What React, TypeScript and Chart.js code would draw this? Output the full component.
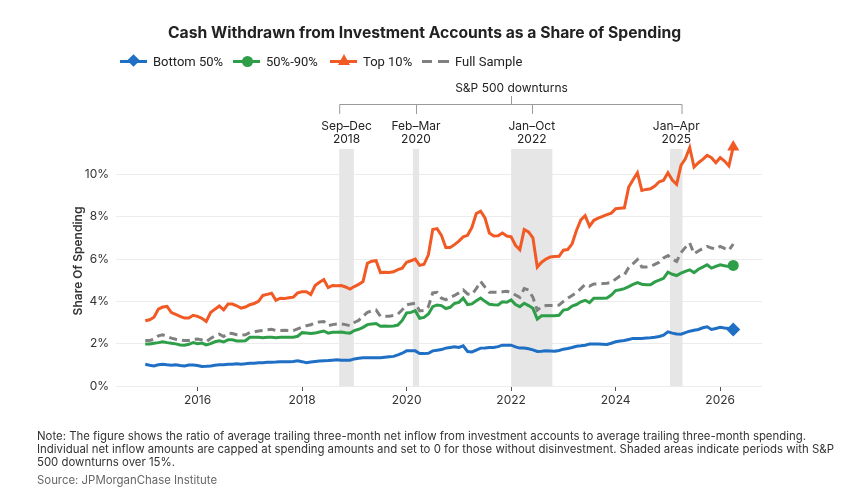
import React, { useEffect, useRef } from "react";
import { Chart, registerables } from "chart.js";

Chart.register(...registerables);

// ---- Data (monthly, Jan 2015 – Apr 2026), values in % of spending ----
const startYear = 2015;

const bottom50 = [
  1.03, 0.98, 0.95, 1.0, 1.03, 1.0, 0.98, 1.0, 0.97, 0.95,
  0.99, 0.99, 0.97, 0.92, 0.93, 0.95, 0.98, 1.0, 1.0, 1.03,
  1.03, 1.05, 1.03, 1.05, 1.08, 1.08, 1.1, 1.1, 1.12, 1.12,
  1.13, 1.15, 1.15, 1.15, 1.16, 1.19, 1.15, 1.1, 1.13, 1.16,
  1.18, 1.19, 1.2, 1.22, 1.24, 1.22, 1.22, 1.22, 1.28, 1.31,
  1.33, 1.34, 1.34, 1.34, 1.34, 1.36, 1.38, 1.4, 1.47, 1.55,
  1.66, 1.66, 1.66, 1.53, 1.53, 1.55, 1.66, 1.69, 1.72, 1.79,
  1.82, 1.85, 1.82, 1.9, 1.63, 1.61, 1.7, 1.79, 1.8, 1.82,
  1.82, 1.86, 1.93, 1.93, 1.93, 1.85, 1.79, 1.79, 1.76, 1.71,
  1.63, 1.64, 1.66, 1.65, 1.64, 1.68, 1.74, 1.77, 1.82, 1.88,
  1.9, 1.93, 1.98, 1.98, 1.98, 1.97, 1.96, 2.02, 2.09, 2.13,
  2.15, 2.2, 2.25, 2.25, 2.25, 2.27, 2.28, 2.3, 2.34, 2.4,
  2.56, 2.5, 2.46, 2.45, 2.52, 2.59, 2.63, 2.67, 2.75, 2.8,
  2.67, 2.72, 2.77, 2.74, 2.72, 2.67,
];

const mid50to90 = [
  1.99, 1.99, 2.02, 2.05, 2.09, 2.05, 2.02, 1.99, 1.94, 1.93,
  1.97, 2.05, 2.0, 2.03, 1.94, 2.0, 2.09, 2.14, 2.08, 2.18,
  2.18, 2.13, 2.13, 2.14, 2.3, 2.3, 2.3, 2.28, 2.3, 2.3,
  2.28, 2.3, 2.3, 2.3, 2.3, 2.35, 2.52, 2.5, 2.48, 2.5,
  2.55, 2.6, 2.5, 2.54, 2.54, 2.55, 2.52, 2.5, 2.62, 2.68,
  2.77, 2.9, 2.93, 2.95, 2.82, 2.83, 2.82, 2.84, 2.88, 3.1,
  3.45, 3.48, 3.56, 3.2, 3.24, 3.4, 3.75, 3.83, 3.8, 3.66,
  3.72, 3.9, 3.95, 4.15, 3.85, 3.88, 4.03, 4.16, 4.0, 3.86,
  3.84, 3.83, 3.98, 3.96, 4.07, 3.85, 3.75, 3.91, 3.8, 3.67,
  3.16, 3.32, 3.32, 3.32, 3.32, 3.34, 3.59, 3.62, 3.78, 3.85,
  3.98, 4.05, 3.94, 4.15, 4.15, 4.15, 4.16, 4.3, 4.51, 4.55,
  4.6, 4.7, 4.8, 4.89, 4.81, 4.79, 4.78, 4.92, 5.0, 5.09,
  5.38, 5.28, 5.22, 5.33, 5.42, 5.49, 5.36, 5.52, 5.62, 5.73,
  5.57, 5.65, 5.73, 5.68, 5.65, 5.7,
];

const top10 = [
  3.08, 3.13, 3.25, 3.63, 3.73, 3.76, 3.47, 3.38, 3.29, 3.21,
  3.21, 3.34, 3.29, 3.2, 3.05, 3.47, 3.63, 3.78, 3.6, 3.87,
  3.87, 3.79, 3.68, 3.73, 3.84, 3.9, 4.0, 4.28, 4.33, 4.38,
  4.05, 4.15, 4.14, 4.17, 4.2, 4.4, 4.45, 4.45, 4.32, 4.75,
  4.9, 5.03, 4.65, 4.75, 4.74, 4.75, 4.68, 4.58, 4.7, 4.8,
  4.94, 5.8, 5.9, 5.92, 5.36, 5.37, 5.36, 5.4, 5.5, 5.57,
  5.85, 5.92, 6.0, 5.7, 5.75, 6.2, 7.4, 7.44, 7.12, 6.55,
  6.55, 6.68, 6.85, 7.05, 7.12, 7.5, 8.15, 8.26, 7.94, 7.23,
  7.09, 7.1, 7.23, 7.09, 7.05, 6.65, 6.44, 7.39, 7.28, 7.0,
  5.62, 5.85, 6.0, 6.1, 6.12, 6.13, 6.42, 6.45, 6.72, 7.35,
  7.85, 8.05, 7.55, 7.83, 7.93, 8.02, 8.1, 8.17, 8.38, 8.4,
  8.42, 9.4, 9.75, 10.08, 9.24, 9.29, 9.32, 9.45, 9.65, 9.72,
  10.08, 9.73, 9.53, 10.43, 10.74, 11.27, 10.35, 10.55, 10.71, 10.9,
  10.79, 10.55, 10.79, 10.63, 10.4, 11.3,
];

const fullSample = [
  2.15, 2.15, 2.21, 2.37, 2.42, 2.34, 2.26, 2.21, 2.18, 2.15,
  2.15, 2.21, 2.22, 2.18, 2.1, 2.24, 2.37, 2.45, 2.34, 2.5,
  2.48, 2.42, 2.4, 2.42, 2.53, 2.56, 2.6, 2.62, 2.66, 2.68,
  2.62, 2.62, 2.63, 2.62, 2.62, 2.7, 2.78, 2.85, 2.89, 3.0,
  3.03, 3.05, 2.85, 2.9, 2.93, 2.93, 2.9, 2.85, 3.0, 3.1,
  3.3, 3.48, 3.55, 3.59, 3.29, 3.3, 3.3, 3.33, 3.4, 3.6,
  3.83, 3.88, 3.91, 3.55, 3.57, 3.75, 4.4, 4.43, 4.15, 4.08,
  4.18, 4.28, 4.4, 4.54, 4.35, 4.33, 4.6, 4.94, 4.67, 4.43,
  4.43, 4.43, 4.45, 4.48, 4.42, 4.3, 4.19, 4.6, 4.54, 4.19,
  3.58, 3.75, 3.8, 3.8, 3.8, 3.82, 4.0, 4.15, 4.28, 4.42,
  4.6, 4.8, 4.72, 4.82, 4.83, 4.84, 4.86, 4.89, 5.05, 5.2,
  5.25, 5.6, 5.78, 5.97, 5.62, 5.62, 5.65, 5.75, 5.85, 6.05,
  6.16, 6.0, 5.89, 6.3, 6.55, 6.76, 6.25, 6.38, 6.5, 6.6,
  6.52, 6.47, 6.6, 6.5, 6.41, 6.71,
];

// S&P 500 downturn periods (decimal years)
const downturnStart = [2018.71, 2020.12, 2022.0, 2025.04];
const downturnEnd = [2018.99, 2020.24, 2022.79, 2025.28];
const downturnLabels = [
  ["Sep–Dec", "2018"],
  ["Feb–Mar", "2020"],
  ["Jan–Oct", "2022"],
  ["Jan–Apr", "2025"],
];

const yTicks = [0, 2, 4, 6, 8, 10];
const xTickYears = [2016, 2018, 2020, 2022, 2024, 2026];

const seriesNames = ["Bottom 50%", "50%-90%", "Top 10%", "Full Sample"];
const colors = ["#1f6fc5", "#2f9e48", "#f15a24", "#808080"];

const FONT = "Inter, 'Noto Sans', sans-serif";
const LEGEND_FONT = "Roboto, Inter, sans-serif";

const toPoints = (vals: number[]) =>
  vals.map((v, i) => ({ x: startYear + i / 12, y: v }));

const App = () => {
  const canvasRef = useRef<HTMLCanvasElement | null>(null);

  useEffect(() => {
    const canvas = canvasRef.current;
    if (!canvas) return;

    const overlayPlugin = {
      id: "overlay",
      beforeDatasetsDraw(chart: any) {
        const { ctx, chartArea, scales } = chart;
        const xs = scales.x;
        ctx.save();
        ctx.fillStyle = "#e6e6e6";
        downturnStart.forEach((s, i) => {
          const x0 = xs.getPixelForValue(s);
          const x1 = xs.getPixelForValue(downturnEnd[i]);
          ctx.fillRect(x0, chartArea.top, x1 - x0, chartArea.bottom - chartArea.top);
        });
        ctx.restore();
      },
      afterDraw(chart: any) {
        const { ctx, scales } = chart;
        const xs = scales.x;
        ctx.save();
        // Bracket annotation
        const n = downturnStart.length;
        const left = xs.getPixelForValue(downturnStart[0]);
        const right = xs.getPixelForValue(downturnEnd[n - 1]);
        const barY = 104;
        const dropY = 114;
        ctx.strokeStyle = "#9a9a9a";
        ctx.lineWidth = 1;
        ctx.beginPath();
        ctx.moveTo(left + 0.5, dropY);
        ctx.lineTo(left + 0.5, barY + 0.5);
        ctx.lineTo(right - 0.5, barY + 0.5);
        ctx.lineTo(right - 0.5, dropY);
        for (let i = 1; i < n - 1; i++) {
          const cx = Math.round(
            (xs.getPixelForValue(downturnStart[i]) + xs.getPixelForValue(downturnEnd[i])) / 2
          ) + 0.5;
          ctx.moveTo(cx, barY);
          ctx.lineTo(cx, dropY);
        }
        const mid = Math.round((left + right) / 2) + 0.5;
        ctx.moveTo(mid, barY);
        ctx.lineTo(mid, 96);
        ctx.stroke();

        ctx.fillStyle = "#222";
        ctx.textAlign = "center";
        ctx.textBaseline = "middle";
        ctx.font = `12px ${FONT}`;
        ctx.fillText("S&P 500 downturns", mid, 88);
        downturnLabels.forEach((lab, i) => {
          const cx =
            (xs.getPixelForValue(downturnStart[i]) + xs.getPixelForValue(downturnEnd[i])) / 2;
          ctx.fillText(lab[0], cx, 126);
          ctx.fillText(lab[1], cx, 139);
        });

        // Y axis title
        ctx.translate(78, 261);
        ctx.rotate(-Math.PI / 2);
        ctx.font = `600 12px ${FONT}`;
        ctx.fillStyle = "#333";
        ctx.fillText("Share Of Spending", 0, 0);
        ctx.restore();
      },
    };

    const lastIdx = top10.length - 1;
    const mk = (i: number, data: number[], style: any, radius: number, dashed = false) => ({
      label: seriesNames[i],
      data: toPoints(data),
      borderColor: colors[i],
      backgroundColor: colors[i],
      borderWidth: 3,
      borderDash: dashed ? [8, 5] : [],
      pointStyle: style,
      pointRadius: (c: any) => (c.dataIndex === lastIdx ? radius : 0),
      pointHoverRadius: 0,
      pointBorderWidth: 0,
      tension: 0,
      fill: false,
      clip: false,
    });

    const chart = new Chart(canvas, {
      type: "line",
      data: {
        datasets: [
          mk(3, fullSample, "circle", 0, true),
          mk(0, bottom50, "rectRot", 7),
          mk(1, mid50to90, "circle", 5.5),
          mk(2, top10, "triangle", 7),
        ],
      },
      options: {
        responsive: false,
        animation: false,
        events: [],
        layout: { padding: { left: 0, right: 87, top: 149, bottom: 72 } },
        plugins: {
          legend: { display: false },
          tooltip: { enabled: false },
          title: { display: false },
        },
        scales: {
          x: {
            type: "linear",
            min: 2014.44,
            max: 2026.8,
            afterFit: (s: any) => {
              s.height = 40;
            },
            afterBuildTicks: (s: any) => {
              s.ticks = xTickYears.map((v) => ({ value: v }));
            },
            grid: {
              drawOnChartArea: false,
              drawTicks: true,
              tickLength: 5,
              tickColor: "#555",
            },
            border: { display: false },
            ticks: {
              padding: 2,
              color: "#333",
              font: { family: FONT, size: 12 },
              callback: (v: any) => String(v),
              maxRotation: 0,
            },
          },
          y: {
            min: 0,
            max: 11.2,
            afterFit: (s: any) => {
              s.width = 116;
            },
            afterBuildTicks: (s: any) => {
              s.ticks = yTicks.map((v) => ({ value: v }));
            },
            grid: { color: "#ececec", drawTicks: false, lineWidth: 1 },
            border: { display: false },
            ticks: {
              padding: 7,
              color: "#333",
              font: { family: FONT, size: 12 },
              callback: (v: any) => `${v}%`,
            },
          },
        },
      },
      plugins: [overlayPlugin],
    } as any);

    return () => chart.destroy();
  }, []);

  const legendMarker = (i: number) => {
    const c = colors[i];
    let marker: React.ReactNode = null;
    if (i === 0) {
      marker = (
        <span
          style={{
            position: "absolute", left: 9, top: -3.5, width: 9, height: 9,
            background: c, transform: "rotate(45deg)",
          }}
        />
      );
    } else if (i === 1) {
      marker = (
        <span
          style={{
            position: "absolute", left: 8.5, top: -4, width: 11, height: 11,
            borderRadius: "50%", background: c,
          }}
        />
      );
    } else if (i === 2) {
      marker = (
        <span
          style={{
            position: "absolute", left: 7.5, top: -6, width: 0, height: 0,
            borderLeft: "6px solid transparent", borderRight: "6px solid transparent",
            borderBottom: `11px solid ${c}`,
          }}
        />
      );
    }
    return (
      <span
        style={{
          position: "relative", display: "inline-block", width: 27, height: 3,
          background:
            i === 3
              ? `linear-gradient(to right, ${c} 0 10px, transparent 10px 16px, ${c} 16px 27px)`
              : c,
          marginRight: 6,
        }}
      >
        {marker}
      </span>
    );
  };

  const legendX = [120, 233, 330, 422];

  return (
    <div
      style={{
        position: "fixed", left: 0, top: 0, width: 849, height: 498,
        background: "#fff", fontFamily: FONT, overflow: "hidden",
      }}
    >
      <canvas
        ref={canvasRef}
        width={849}
        height={498}
        style={{ position: "absolute", left: 0, top: 0, width: 849, height: 498 }}
      />
      <div
        style={{
          position: "absolute", left: 0, top: 23, width: 849, textAlign: "center",
          fontSize: 15.7, fontWeight: 700, color: "#222", lineHeight: "20px",
        }}
      >
        Cash Withdrawn from Investment Accounts as a Share of Spending
      </div>
      {seriesNames.map((name, i) => (
        <div
          key={name}
          style={{
            position: "absolute", left: legendX[i], top: 52, height: 18,
            display: "flex", alignItems: "center", fontSize: 13, color: "#222",
            whiteSpace: "nowrap", fontFamily: LEGEND_FONT,
          }}
        >
          {legendMarker(i)}
          <span>{name}</span>
        </div>
      ))}
      <div
        style={{
          position: "absolute", left: 37, top: 430, width: 808, fontSize: 11.4,
          lineHeight: "13px", color: "#333",
        }}
      >
        Note: The figure shows the ratio of average trailing three-month net inflow from investment
        accounts to average trailing three-month spending. Individual net inflow amounts are capped
        at spending amounts and set to 0 for those without disinvestment. Shaded areas indicate
        periods with S&amp;P 500 downturns over 15%.
      </div>
      <div
        style={{
          position: "absolute", left: 37, top: 474, fontSize: 11.4, lineHeight: "13px",
          color: "#666",
        }}
      >
        Source: JPMorganChase Institute
      </div>
    </div>
  );
};

export default App;
